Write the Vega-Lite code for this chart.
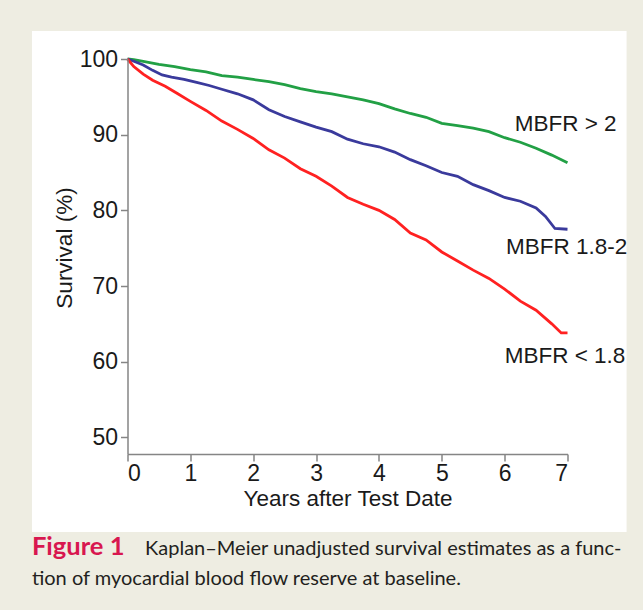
{
  "$schema": "https://vega.github.io/schema/vega-lite/v6.json",
  "autosize": "none",
  "width": 440,
  "height": 395,
  "padding": {"left": 127.5, "top": 59, "right": 75.5, "bottom": 156},
  "background": "#eeede2",
  "config": {
    "view": {"stroke": null},
    "axis": {
      "zindex": 2,
      "grid": false,
      "domainColor": "#858585",
      "tickColor": "#858585",
      "domainWidth": 1.5,
      "tickWidth": 1.5,
      "tickSize": 7,
      "labelFont": "Liberation Sans",
      "labelFontSize": 23,
      "labelColor": "#1a1a1a",
      "titleFont": "Liberation Sans",
      "titleFontSize": 22.5,
      "titleFontWeight": "normal",
      "titleColor": "#1a1a1a"
    }
  },
  "datasets": {
    "one": [{}],
    "km": [
      {"group": "MBFR > 2", "years": 0, "survival": 100},
      {"group": "MBFR > 2", "years": 0.1, "survival": 99.9},
      {"group": "MBFR > 2", "years": 0.25, "survival": 99.7},
      {"group": "MBFR > 2", "years": 0.5, "survival": 99.3},
      {"group": "MBFR > 2", "years": 0.75, "survival": 99.0},
      {"group": "MBFR > 2", "years": 1.0, "survival": 98.6},
      {"group": "MBFR > 2", "years": 1.25, "survival": 98.3},
      {"group": "MBFR > 2", "years": 1.5, "survival": 97.8},
      {"group": "MBFR > 2", "years": 1.75, "survival": 97.6},
      {"group": "MBFR > 2", "years": 2.0, "survival": 97.3},
      {"group": "MBFR > 2", "years": 2.25, "survival": 97.0},
      {"group": "MBFR > 2", "years": 2.5, "survival": 96.6},
      {"group": "MBFR > 2", "years": 2.75, "survival": 96.1},
      {"group": "MBFR > 2", "years": 3.0, "survival": 95.7},
      {"group": "MBFR > 2", "years": 3.25, "survival": 95.4},
      {"group": "MBFR > 2", "years": 3.5, "survival": 95.0},
      {"group": "MBFR > 2", "years": 3.75, "survival": 94.6},
      {"group": "MBFR > 2", "years": 4.0, "survival": 94.1},
      {"group": "MBFR > 2", "years": 4.25, "survival": 93.4},
      {"group": "MBFR > 2", "years": 4.5, "survival": 92.8},
      {"group": "MBFR > 2", "years": 4.75, "survival": 92.3},
      {"group": "MBFR > 2", "years": 5.0, "survival": 91.5},
      {"group": "MBFR > 2", "years": 5.25, "survival": 91.2},
      {"group": "MBFR > 2", "years": 5.5, "survival": 90.85},
      {"group": "MBFR > 2", "years": 5.75, "survival": 90.4},
      {"group": "MBFR > 2", "years": 6.0, "survival": 89.6},
      {"group": "MBFR > 2", "years": 6.25, "survival": 89.0},
      {"group": "MBFR > 2", "years": 6.5, "survival": 88.2},
      {"group": "MBFR > 2", "years": 6.75, "survival": 87.3},
      {"group": "MBFR > 2", "years": 7.0, "survival": 86.3},
      {"group": "MBFR 1.8-2", "years": 0, "survival": 100},
      {"group": "MBFR 1.8-2", "years": 0.1, "survival": 99.7},
      {"group": "MBFR 1.8-2", "years": 0.25, "survival": 99.2},
      {"group": "MBFR 1.8-2", "years": 0.4, "survival": 98.5},
      {"group": "MBFR 1.8-2", "years": 0.55, "survival": 97.9},
      {"group": "MBFR 1.8-2", "years": 0.7, "survival": 97.6},
      {"group": "MBFR 1.8-2", "years": 0.9, "survival": 97.3},
      {"group": "MBFR 1.8-2", "years": 1.1, "survival": 96.9},
      {"group": "MBFR 1.8-2", "years": 1.3, "survival": 96.5},
      {"group": "MBFR 1.8-2", "years": 1.5, "survival": 96.0},
      {"group": "MBFR 1.8-2", "years": 1.75, "survival": 95.4},
      {"group": "MBFR 1.8-2", "years": 2.0, "survival": 94.6},
      {"group": "MBFR 1.8-2", "years": 2.25, "survival": 93.3},
      {"group": "MBFR 1.8-2", "years": 2.5, "survival": 92.4},
      {"group": "MBFR 1.8-2", "years": 2.75, "survival": 91.7},
      {"group": "MBFR 1.8-2", "years": 3.0, "survival": 91.0},
      {"group": "MBFR 1.8-2", "years": 3.25, "survival": 90.4},
      {"group": "MBFR 1.8-2", "years": 3.5, "survival": 89.4},
      {"group": "MBFR 1.8-2", "years": 3.75, "survival": 88.8},
      {"group": "MBFR 1.8-2", "years": 4.0, "survival": 88.4},
      {"group": "MBFR 1.8-2", "years": 4.25, "survival": 87.7},
      {"group": "MBFR 1.8-2", "years": 4.5, "survival": 86.7},
      {"group": "MBFR 1.8-2", "years": 4.75, "survival": 85.9},
      {"group": "MBFR 1.8-2", "years": 5.0, "survival": 85.0},
      {"group": "MBFR 1.8-2", "years": 5.25, "survival": 84.5},
      {"group": "MBFR 1.8-2", "years": 5.5, "survival": 83.4},
      {"group": "MBFR 1.8-2", "years": 5.75, "survival": 82.6},
      {"group": "MBFR 1.8-2", "years": 6.0, "survival": 81.7},
      {"group": "MBFR 1.8-2", "years": 6.25, "survival": 81.2},
      {"group": "MBFR 1.8-2", "years": 6.5, "survival": 80.3},
      {"group": "MBFR 1.8-2", "years": 6.65, "survival": 79.2},
      {"group": "MBFR 1.8-2", "years": 6.8, "survival": 77.6},
      {"group": "MBFR 1.8-2", "years": 7.0, "survival": 77.5},
      {"group": "MBFR < 1.8", "years": 0, "survival": 100},
      {"group": "MBFR < 1.8", "years": 0.1, "survival": 99.0},
      {"group": "MBFR < 1.8", "years": 0.25, "survival": 98.0},
      {"group": "MBFR < 1.8", "years": 0.4, "survival": 97.2},
      {"group": "MBFR < 1.8", "years": 0.6, "survival": 96.4},
      {"group": "MBFR < 1.8", "years": 0.8, "survival": 95.4},
      {"group": "MBFR < 1.8", "years": 1.0, "survival": 94.4},
      {"group": "MBFR < 1.8", "years": 1.25, "survival": 93.2},
      {"group": "MBFR < 1.8", "years": 1.5, "survival": 91.8},
      {"group": "MBFR < 1.8", "years": 1.75, "survival": 90.7},
      {"group": "MBFR < 1.8", "years": 2.0, "survival": 89.5},
      {"group": "MBFR < 1.8", "years": 2.25, "survival": 88.0},
      {"group": "MBFR < 1.8", "years": 2.5, "survival": 86.9},
      {"group": "MBFR < 1.8", "years": 2.75, "survival": 85.5},
      {"group": "MBFR < 1.8", "years": 3.0, "survival": 84.5},
      {"group": "MBFR < 1.8", "years": 3.25, "survival": 83.2},
      {"group": "MBFR < 1.8", "years": 3.5, "survival": 81.7},
      {"group": "MBFR < 1.8", "years": 3.75, "survival": 80.8},
      {"group": "MBFR < 1.8", "years": 4.0, "survival": 80.0},
      {"group": "MBFR < 1.8", "years": 4.25, "survival": 78.8},
      {"group": "MBFR < 1.8", "years": 4.5, "survival": 77.0},
      {"group": "MBFR < 1.8", "years": 4.75, "survival": 76.1},
      {"group": "MBFR < 1.8", "years": 5.0, "survival": 74.5},
      {"group": "MBFR < 1.8", "years": 5.25, "survival": 73.3},
      {"group": "MBFR < 1.8", "years": 5.5, "survival": 72.1},
      {"group": "MBFR < 1.8", "years": 5.75, "survival": 71.0},
      {"group": "MBFR < 1.8", "years": 6.0, "survival": 69.6},
      {"group": "MBFR < 1.8", "years": 6.25, "survival": 68.0},
      {"group": "MBFR < 1.8", "years": 6.5, "survival": 66.8},
      {"group": "MBFR < 1.8", "years": 6.75, "survival": 65.0},
      {"group": "MBFR < 1.8", "years": 6.9, "survival": 63.8},
      {"group": "MBFR < 1.8", "years": 7.0, "survival": 63.8}
    ]
  },
  "layer": [
    {
      "data": {"name": "one"},
      "mark": {"type": "rect", "fill": "#ffffff", "clip": false, "zindex": 0},
      "encoding": {
        "x": {"datum": -1.52, "type": "quantitative", "scale": {"domain": [0, 7], "nice": false, "zero": false}, "axis": {"values": [0, 1, 2, 3, 4, 5, 6, 7], "format": "d", "title": "Years after Test Date", "labelPadding": 1, "titlePadding": 2, "zindex": 2}},
        "x2": {"datum": 7.94},
        "y": {"datum": 103.7, "type": "quantitative", "scale": {"domain": [47.8, 100], "nice": false, "zero": false}, "axis": {"values": [50, 60, 70, 80, 90, 100], "format": "d", "title": "Survival (%)", "labelPadding": 3, "titlePadding": 3, "titleY": 188.5, "zindex": 2}},
        "y2": {"datum": 37.5}
      }
    },
    {
      "data": {"name": "km"},
      "mark": {"type": "line", "strokeWidth": 2.8, "interpolate": "linear", "clip": false, "zindex": 1},
      "encoding": {
        "x": {
          "field": "years", "type": "quantitative",
          "scale": {"domain": [0, 7], "nice": false, "zero": false},
          "axis": {"values": [0, 1, 2, 3, 4, 5, 6, 7], "format": "d", "title": "Years after Test Date", "labelPadding": 1, "titlePadding": 2, "zindex": 2}
        },
        "y": {
          "field": "survival", "type": "quantitative",
          "scale": {"domain": [47.8, 100], "nice": false, "zero": false},
          "axis": {"values": [50, 60, 70, 80, 90, 100], "format": "d", "title": "Survival (%)", "labelPadding": 3, "titlePadding": 3, "titleY": 188.5, "zindex": 2}
        },
        "color": {
          "field": "group", "type": "nominal",
          "scale": {"domain": ["MBFR > 2", "MBFR 1.8-2", "MBFR < 1.8"], "range": ["#22a045", "#3a3a9c", "#ff2121"]},
          "legend": null
        },
        "detail": {"field": "group"}
      }
    },
    {
      "data": {"name": "one"},
      "mark": {"type": "text", "align": "left", "baseline": "middle", "font": "Liberation Sans", "fontSize": 22.5, "color": "#1a1a1a", "zindex": 1},
      "encoding": {"x": {"datum": 6.16, "type": "quantitative"}, "y": {"datum": 91.4, "type": "quantitative"}, "text": {"value": "MBFR > 2"}}
    },
    {
      "data": {"name": "one"},
      "mark": {"type": "text", "align": "left", "baseline": "middle", "font": "Liberation Sans", "fontSize": 22.5, "color": "#1a1a1a", "zindex": 1},
      "encoding": {"x": {"datum": 6.02, "type": "quantitative"}, "y": {"datum": 75.2, "type": "quantitative"}, "text": {"value": "MBFR 1.8-2"}}
    },
    {
      "data": {"name": "one"},
      "mark": {"type": "text", "align": "left", "baseline": "middle", "font": "Liberation Sans", "fontSize": 22.5, "color": "#1a1a1a", "zindex": 1},
      "encoding": {"x": {"datum": 6.0, "type": "quantitative"}, "y": {"datum": 60.8, "type": "quantitative"}, "text": {"value": "MBFR < 1.8"}}
    },
    {
      "data": {"name": "one"},
      "mark": {"type": "text", "align": "left", "baseline": "alphabetic", "font": "Lato", "fontSize": 25.5, "fontWeight": "bold", "color": "#d8174f", "zindex": 1},
      "encoding": {"x": {"datum": -1.52, "type": "quantitative"}, "y": {"datum": 34.5, "type": "quantitative"}, "text": {"value": "Figure 1"}}
    },
    {
      "data": {"name": "one"},
      "mark": {"type": "text", "align": "left", "baseline": "alphabetic", "font": "Lato", "fontSize": 20, "color": "#231f20", "zindex": 1},
      "encoding": {"x": {"datum": 0.28, "type": "quantitative"}, "y": {"datum": 34.5, "type": "quantitative"}, "text": {"value": "Kaplan–Meier unadjusted survival estimates as a func-"}}
    },
    {
      "data": {"name": "one"},
      "mark": {"type": "text", "align": "left", "baseline": "alphabetic", "font": "Lato", "fontSize": 20, "color": "#231f20", "zindex": 1},
      "encoding": {"x": {"datum": -1.52, "type": "quantitative"}, "y": {"datum": 30.5, "type": "quantitative"}, "text": {"value": "tion of myocardial blood flow reserve at baseline."}}
    }
  ]
}
